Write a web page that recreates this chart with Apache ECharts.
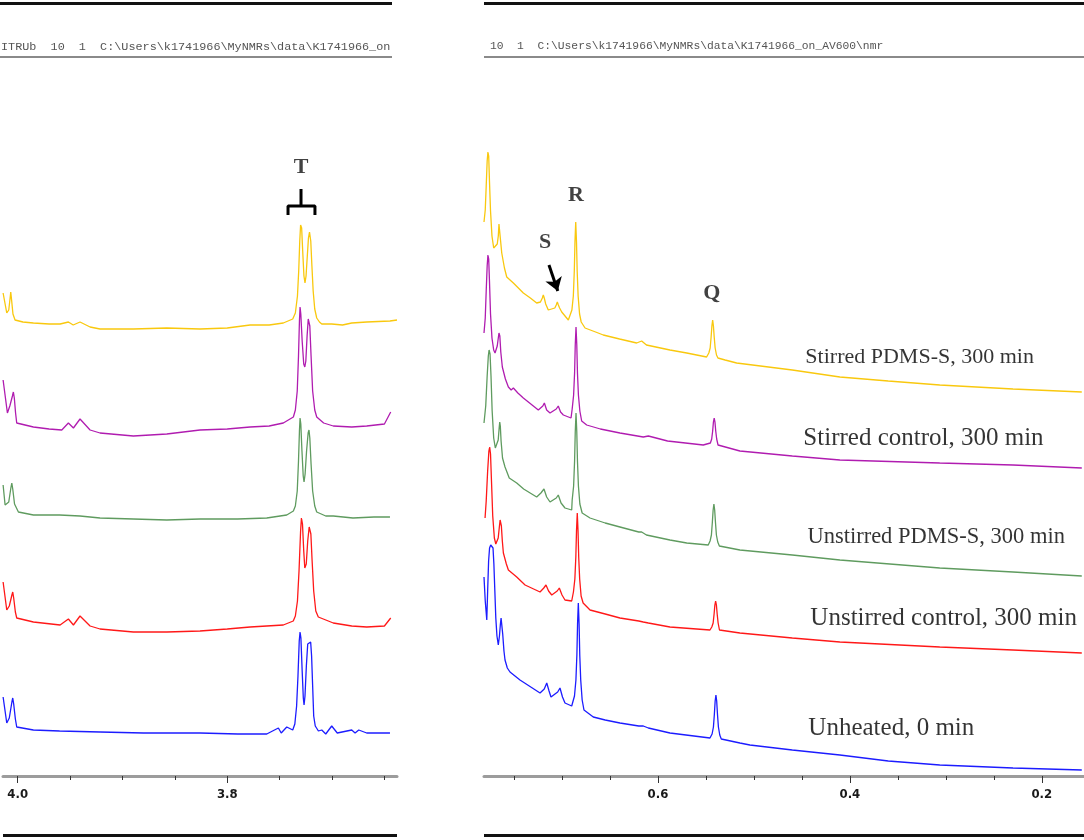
<!DOCTYPE html>
<html>
<head>
<meta charset="utf-8">
<script src="https://cdn.jsdelivr.net/npm/echarts@6.0.0/dist/echarts.min.js"></script>
<style>
  html, body { margin: 0; padding: 0; background: #fff; }
  #chart { width: 1084px; height: 840px; }
</style>
</head>
<body>
<div id="chart"></div>
<script>
// ------------------------------------------------------------
// Data: [ppm, intensity]
// ------------------------------------------------------------

const samples = [
  "Stirred PDMS-S, 300 min",
  "Stirred control, 300 min",
  "Unstirred PDMS-S, 300 min",
  "Unstirred control, 300 min",
  "Unheated, 0 min",
];

// left panel, 4.0 - 3.64 ppm (peak T)
const stirredPdmsT = [[4.0139,483],[4.0104,463],[4.0085,466],[4.0072,478],[4.0066,484],[4.0058,476],[4.0045,462],[4.0025,456],[3.9950,454],[3.9850,453],[3.9700,452],[3.9595,452],[3.9516,454],[3.9470,451],[3.9405,454],[3.9309,449],[3.9214,447],[3.8896,447],[3.8577,448],[3.8260,447],[3.8000,448],[3.7782,451],[3.7600,451],[3.7465,453],[3.7375,457],[3.7350,463],[3.7330,480],[3.7318,505],[3.7308,535],[3.7300,551],[3.7296,553],[3.7290,548],[3.7280,525],[3.7268,500],[3.7258,493],[3.7248,500],[3.7236,520],[3.7225,538],[3.7215,544],[3.7210,543],[3.7203,535],[3.7192,510],[3.7180,485],[3.7165,467],[3.7146,458],[3.7120,454],[3.7098,452],[3.7003,452],[3.6900,451],[3.6812,453],[3.6669,454],[3.6447,455],[3.6380,456]];
const stirredControlT = [[4.0139,396],[4.0098,363],[4.0075,370],[4.0050,380],[4.0041,384],[4.0032,378],[4.0020,363],[4.0009,353],[3.9850,349],[3.9700,347],[3.9579,346],[3.9516,353],[3.9468,348],[3.9405,357],[3.9309,346],[3.9214,343],[3.8896,340],[3.8577,342],[3.8260,346],[3.8000,347],[3.7782,349],[3.7600,350],[3.7465,353],[3.7369,359],[3.7350,366],[3.7332,385],[3.7320,420],[3.7311,455],[3.7305,469],[3.7298,462],[3.7285,435],[3.7270,412],[3.7260,409],[3.7250,415],[3.7238,440],[3.7227,457],[3.7220,459],[3.7212,450],[3.7200,420],[3.7185,385],[3.7165,366],[3.7146,359],[3.7080,353],[3.6988,350],[3.6812,349],[3.6669,350],[3.6500,352],[3.6440,364]];
const unstirredPdmsT = [[4.0139,291],[4.0120,271],[4.0085,274],[4.0065,288],[4.0056,293],[4.0047,287],[4.0030,272],[3.9993,264],[3.9850,261],[3.9600,261],[3.9405,260],[3.9214,258],[3.8896,257],[3.8577,256],[3.8260,257],[3.7900,257],[3.7623,258],[3.7432,261],[3.7369,265],[3.7350,270],[3.7332,285],[3.7320,315],[3.7311,345],[3.7305,358],[3.7298,352],[3.7287,325],[3.7275,300],[3.7267,294],[3.7257,302],[3.7243,325],[3.7228,343],[3.7220,346],[3.7212,338],[3.7200,312],[3.7185,285],[3.7165,270],[3.7146,264],[3.7060,260],[3.6988,260],[3.6800,258],[3.6600,259],[3.6447,259]];
const unstirredControlT = [[4.0139,194],[4.0104,166],[4.0080,170],[4.0055,181],[4.0047,184],[4.0038,178],[4.0022,164],[4.0009,158],[3.9850,154],[3.9595,151],[3.9516,157],[3.9468,151],[3.9405,160],[3.9309,150],[3.9214,147],[3.8896,144],[3.8577,144],[3.8260,145],[3.8000,147],[3.7782,149],[3.7465,151],[3.7370,155],[3.7350,160],[3.7330,175],[3.7315,205],[3.7300,245],[3.7292,258],[3.7289,260],[3.7282,252],[3.7270,225],[3.7260,208],[3.7255,206],[3.7246,212],[3.7232,235],[3.7218,249],[3.7210,250],[3.7202,242],[3.7190,215],[3.7175,185],[3.7155,165],[3.7131,159],[3.6988,153],[3.6812,150],[3.6669,149],[3.6500,150],[3.6440,158]];
const unheatedT = [[4.0139,79],[4.0104,53],[4.0080,58],[4.0055,74],[4.0047,78],[4.0038,72],[4.0022,57],[4.0009,49],[3.9850,46],[3.9600,45],[3.9214,44],[3.8800,43],[3.8260,43],[3.7900,42],[3.7623,42],[3.7512,48],[3.7485,43],[3.7432,49],[3.7375,46],[3.7355,52],[3.7338,70],[3.7325,100],[3.7313,135],[3.7305,144],[3.7297,138],[3.7285,105],[3.7274,78],[3.7267,71],[3.7258,80],[3.7245,110],[3.7232,132],[3.7222,134],[3.7204,134],[3.7195,120],[3.7185,90],[3.7175,60],[3.7160,50],[3.7130,45],[3.7098,46],[3.7060,42],[3.7003,50],[3.6950,43],[3.6812,46],[3.6780,43],[3.6745,46],[3.6669,43],[3.6447,43]];

// right panel, 0.78 - 0.16 ppm (peaks S, R, Q)
const stirredPdmsHigh = [[0.7813,554],[0.7800,566],[0.7790,590],[0.7780,615],[0.7772,624],[0.7764,620],[0.7756,595],[0.7745,565],[0.7730,540],[0.7712,528],[0.7698,526],[0.7675,532],[0.7664,540],[0.7657,552],[0.7653,554],[0.7648,550],[0.7640,535],[0.7628,523],[0.7600,508],[0.7576,499],[0.7507,493],[0.7403,483],[0.7330,478],[0.7264,473],[0.7225,474],[0.7205,478],[0.7195,481],[0.7185,478],[0.7170,472],[0.7143,466],[0.7075,468],[0.7060,471],[0.7049,474],[0.7038,471],[0.7025,468],[0.7003,464],[0.6934,456],[0.6897,466],[0.6882,480],[0.6872,505],[0.6865,534],[0.6857,554],[0.6849,534],[0.6842,505],[0.6832,480],[0.6817,462],[0.6800,454],[0.6760,448],[0.6650,444],[0.6570,441],[0.6400,437],[0.6222,433],[0.6170,435],[0.6120,431],[0.5875,426],[0.5700,423],[0.5493,419],[0.5470,423],[0.5456,428],[0.5446,439],[0.5438,450],[0.5430,456],[0.5422,450],[0.5414,439],[0.5404,428],[0.5390,421],[0.5375,418],[0.5300,416],[0.5180,413],[0.4600,406],[0.4104,399],[0.3600,395],[0.3063,391],[0.2300,387],[0.1583,384]];
const stirredControlHigh = [[0.7813,443],[0.7800,458],[0.7790,485],[0.7780,510],[0.7772,521],[0.7764,517],[0.7756,495],[0.7745,462],[0.7730,438],[0.7712,426],[0.7698,423],[0.7675,430],[0.7664,438],[0.7657,443],[0.7653,444],[0.7648,440],[0.7638,424],[0.7622,409],[0.7590,397],[0.7559,389],[0.7530,386],[0.7507,388],[0.7460,383],[0.7403,378],[0.7247,366],[0.7200,370],[0.7184,373],[0.7160,366],[0.7125,363],[0.7060,367],[0.7039,370],[0.7015,364],[0.6986,361],[0.6906,358],[0.6894,367],[0.6879,381],[0.6869,403],[0.6862,431],[0.6854,449],[0.6846,431],[0.6839,403],[0.6829,381],[0.6814,365],[0.6795,355],[0.6743,351],[0.6600,347],[0.6396,343],[0.6153,339],[0.6100,340],[0.5900,335],[0.5528,331],[0.5454,333],[0.5440,337],[0.5430,345],[0.5422,354],[0.5414,358],[0.5406,354],[0.5398,345],[0.5388,337],[0.5374,331],[0.5355,329],[0.5146,325],[0.4600,320],[0.4104,316],[0.3063,313],[0.2300,311],[0.1583,308]];
const unstirredPdmsHigh = [[0.7813,353],[0.7795,370],[0.7780,400],[0.7768,420],[0.7760,426],[0.7750,422],[0.7740,400],[0.7728,365],[0.7712,338],[0.7695,328],[0.7680,326],[0.7665,336],[0.7655,348],[0.7649,354],[0.7643,350],[0.7635,335],[0.7620,318],[0.7594,309],[0.7550,298],[0.7472,293],[0.7400,287],[0.7264,279],[0.7220,283],[0.7188,287],[0.7160,279],[0.7125,274],[0.7060,278],[0.7039,281],[0.7010,273],[0.6969,268],[0.6899,266],[0.6894,276],[0.6879,290],[0.6869,315],[0.6862,344],[0.6854,363],[0.6846,344],[0.6839,315],[0.6829,290],[0.6814,272],[0.6790,263],[0.6708,258],[0.6550,253],[0.6396,249],[0.6200,244],[0.6170,244],[0.6120,241],[0.5875,236],[0.5700,233],[0.5476,231],[0.5457,235],[0.5443,241],[0.5433,254],[0.5425,266],[0.5417,272],[0.5409,266],[0.5401,254],[0.5391,241],[0.5377,234],[0.5360,230],[0.5146,226],[0.4600,221],[0.4104,216],[0.3063,208],[0.2300,204],[0.1583,200]];
const unstirredControlHigh = [[0.7802,258],[0.7790,275],[0.7775,305],[0.7762,325],[0.7754,329],[0.7745,322],[0.7735,295],[0.7722,260],[0.7705,238],[0.7690,232],[0.7680,231],[0.7665,238],[0.7652,250],[0.7645,256],[0.7639,258],[0.7632,250],[0.7622,235],[0.7611,223],[0.7580,212],[0.7559,206],[0.7472,199],[0.7385,191],[0.7229,184],[0.7190,188],[0.7167,191],[0.7140,185],[0.7107,181],[0.7050,185],[0.7028,188],[0.7000,181],[0.6969,176],[0.6899,175],[0.6881,184],[0.6866,197],[0.6856,219],[0.6849,245],[0.6841,263],[0.6833,245],[0.6826,219],[0.6816,197],[0.6801,180],[0.6780,173],[0.6708,166],[0.6550,162],[0.6396,158],[0.6200,155],[0.6153,154],[0.6100,153],[0.5875,149],[0.5458,146],[0.5439,149],[0.5425,153],[0.5415,162],[0.5407,171],[0.5399,175],[0.5391,171],[0.5383,162],[0.5373,153],[0.5359,146],[0.5345,144],[0.5146,143],[0.4600,138],[0.4104,134],[0.3063,129],[0.2300,126],[0.1583,123]];
const unheatedHigh = [[0.7813,199],[0.7800,175],[0.7784,156],[0.7775,185],[0.7765,215],[0.7755,228],[0.7743,231],[0.7730,231],[0.7719,228],[0.7710,212],[0.7700,185],[0.7690,158],[0.7678,140],[0.7664,131],[0.7652,140],[0.7642,152],[0.7635,158],[0.7628,156],[0.7618,142],[0.7605,125],[0.7594,116],[0.7570,108],[0.7542,104],[0.7438,96],[0.7229,83],[0.7185,87],[0.7159,93],[0.7135,85],[0.7115,79],[0.7045,84],[0.7021,88],[0.6995,79],[0.6969,73],[0.6899,70],[0.6870,80],[0.6855,96],[0.6845,121],[0.6838,152],[0.6830,173],[0.6822,152],[0.6815,121],[0.6805,96],[0.6790,76],[0.6771,66],[0.6674,59],[0.6550,56],[0.6396,53],[0.6200,50],[0.6153,50],[0.6100,48],[0.5875,43],[0.5458,38],[0.5436,42],[0.5422,49],[0.5412,62],[0.5404,75],[0.5396,81],[0.5388,75],[0.5380,62],[0.5370,49],[0.5356,41],[0.5340,37],[0.5146,33],[0.5042,31],[0.4600,26],[0.4104,21],[0.3600,15],[0.3063,11],[0.2300,8],[0.1583,6]];

// axis ticks
const leftTicks = [3.65, 3.7, 3.75, 3.8, 3.85, 3.9, 3.95, 4.0];
const leftLabels = [3.8, 4.0];
const rightTicks = [0.2, 0.25, 0.3, 0.35, 0.4, 0.45, 0.5, 0.55, 0.6, 0.65, 0.7, 0.75];
const rightLabels = [0.2, 0.4, 0.6];

// peak letters
const peakNames = ["T", "S", "R", "Q"];

// ------------------------------------------------------------
// Styling
// ------------------------------------------------------------

const colors = ["#f9c80e", "#b01cb0", "#5f9b5f", "#ff1818", "#1c1cff"];
const leftSeries = [stirredPdmsT, stirredControlT, unstirredPdmsT, unstirredControlT, unheatedT];
const rightSeries = [stirredPdmsHigh, stirredControlHigh, unstirredPdmsHigh, unstirredControlHigh, unheatedHigh];

// label anchors in data space [ppm, intensity]
const sampleLabelAt = [[0.4469, 419], [0.449, 338], [0.4448, 239], [0.4417, 158], [0.4438, 48]];
const sampleLabelSize = [22, 25, 22.5, 25, 25];
const peakLabelAt = [[0, 3.7296, 609], [1, 0.7177, 534], [1, 0.6854, 581], [1, 0.5438, 483]];

const serif = "'Liberation Serif', 'Times New Roman', serif";
const axisFont = "'DejaVu Sans Condensed', 'Liberation Sans Narrow', 'Arial Narrow', sans-serif";

function axisPair(gridIndex, min, max, ticks, labels) {
  const base = {
    type: "value",
    gridIndex: gridIndex,
    min: min,
    max: max,
    inverse: true,
    position: "bottom",
    splitLine: { show: false },
  };
  return [
    {
      ...base,
      axisLine: { show: true, lineStyle: { color: "#9c9c9c", width: 3 } },
      axisTick: { show: true, customValues: ticks, length: 4, lineStyle: { color: "#333", width: 1 } },
      axisLabel: { show: false },
    },
    {
      ...base,
      axisLine: { show: false },
      axisTick: { show: true, customValues: labels, length: 7, lineStyle: { color: "#333", width: 1 } },
      axisLabel: {
        show: true,
        customValues: labels,
        formatter: (v) => v.toFixed(1),
        margin: 12,
        fontFamily: axisFont,
        fontWeight: "bold",
        fontSize: 13,
        color: "#1a1a1a",
      },
    },
  ];
}

function traceSeries(data, i, axis) {
  return {
    type: "line",
    xAxisIndex: axis,
    yAxisIndex: axis === 0 ? 0 : 1,
    data: data,
    showSymbol: false,
    smooth: false,
    lineStyle: { color: colors[i], width: 1.3 },
    silent: true,
  };
}

const series = [];
leftSeries.forEach((d, i) => series.push(traceSeries(d, i, 0)));
rightSeries.forEach((d, i) => series.push(traceSeries(d, i, 2)));

// bracket over T
series.push({
  type: "line", xAxisIndex: 0, yAxisIndex: 0, showSymbol: false, silent: true,
  lineStyle: { color: "#000", width: 3 },
  data: [[3.742, 561], [3.742, 570], [3.7163, 570], [3.7163, 561]],
});
series.push({
  type: "line", xAxisIndex: 0, yAxisIndex: 0, showSymbol: false, silent: true,
  lineStyle: { color: "#000", width: 3 },
  data: [[3.7296, 570], [3.7296, 587]],
});

// arrow pointing at S
series.push({
  type: "line", xAxisIndex: 2, yAxisIndex: 1, data: [], silent: true,
  markLine: {
    silent: true,
    symbol: ["none", "arrow"],
    symbolSize: 13,
    label: { show: false },
    lineStyle: { color: "#000", width: 3, type: "solid" },
    data: [[{ coord: [0.7136, 511] }, { coord: [0.7044, 485] }]],
  },
});

// peak letters
[0, 1].forEach((g) => {
  series.push({
    type: "scatter",
    xAxisIndex: g === 0 ? 0 : 2,
    yAxisIndex: g,
    symbolSize: 1,
    itemStyle: { color: "rgba(0,0,0,0)" },
    silent: true,
    label: {
      show: true, position: "inside", formatter: "{b}",
      fontFamily: serif, fontWeight: "bold", fontSize: 22, color: "#111",
    },
    data: peakLabelAt
      .map((p, k) => ({ g: p[0], name: peakNames[k], value: [p[1], p[2]] }))
      .filter((p) => p.g === g),
  });
});

// sample labels
series.push({
  type: "scatter",
  xAxisIndex: 2,
  yAxisIndex: 1,
  symbolSize: 1,
  itemStyle: { color: "rgba(0,0,0,0)" },
  silent: true,
  label: {
    show: true, position: "right", distance: 0, formatter: "{b}",
    fontFamily: serif, color: "#000", align: "left", verticalAlign: "middle",
  },
  data: samples.map((s, i) => ({
    name: s,
    value: sampleLabelAt[i],
    label: { fontSize: sampleLabelSize[i] },
  })),
});

const headerFont = "'Liberation Mono', 'Courier New', monospace";

const option = {
  animation: false,
  backgroundColor: "#fff",
  grid: [
    { left: 3, width: 394, top: 76, bottom: 64 },
    { left: 484, right: 0, top: 76, bottom: 64 },
  ],
  xAxis: [
    ...axisPair(0, 3.638, 4.014, leftTicks, leftLabels),
    ...axisPair(1, 0.156, 0.7813, rightTicks, rightLabels),
  ],
  yAxis: [
    { type: "value", gridIndex: 0, min: 0, max: 700, show: false },
    { type: "value", gridIndex: 1, min: 0, max: 700, show: false },
  ],
  graphic: [
    { type: "rect", shape: { x: 0, y: 2, width: 392, height: 3 }, style: { fill: "#111" } },
    { type: "rect", shape: { x: 484, y: 2, width: 600, height: 3 }, style: { fill: "#111" } },
    { type: "rect", shape: { x: 0, y: 56, width: 392, height: 2 }, style: { fill: "#8a8a8a" } },
    { type: "rect", shape: { x: 484, y: 56, width: 600, height: 2 }, style: { fill: "#8a8a8a" } },
    { type: "rect", shape: { x: 3, y: 834, width: 394, height: 3 }, style: { fill: "#111" } },
    { type: "rect", shape: { x: 484, y: 834, width: 600, height: 3 }, style: { fill: "#111" } },
    {
      type: "text", left: 1, top: 41,
      style: { text: "ITRUb  10  1  C:\\Users\\k1741966\\MyNMRs\\data\\K1741966_on", font: "11.8px " + headerFont, fill: "#555" },
    },
    {
      type: "text", left: 490, top: 41,
      style: { text: "10  1  C:\\Users\\k1741966\\MyNMRs\\data\\K1741966_on_AV600\\nmr", font: "11.3px " + headerFont, fill: "#555" },
    },
  ],
  series: series,
};

echarts.init(document.getElementById("chart")).setOption(option);
</script>
</body>
</html>
